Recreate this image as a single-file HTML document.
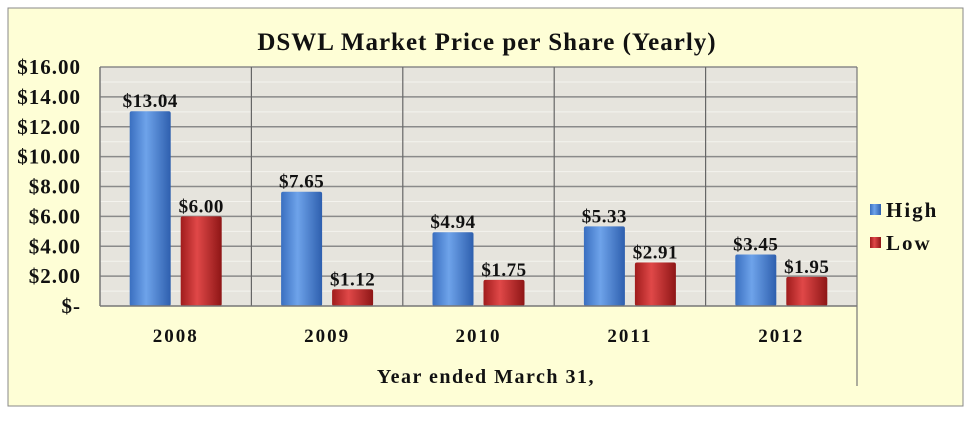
<!DOCTYPE html>
<html><head><meta charset="utf-8"><style>
body{margin:0;background:#fff;}
svg text{font-family:"Liberation Serif",serif;font-weight:bold;fill:#111;}
</style></head><body>
<svg width="975" height="418">
<defs>
<linearGradient id="gb" x1="0" x2="1"><stop offset="0" stop-color="#3a6fc0"/><stop offset="0.4" stop-color="#6ea3ea"/><stop offset="1" stop-color="#2e5fae"/></linearGradient>
<linearGradient id="gr" x1="0" x2="1"><stop offset="0" stop-color="#a01c1c"/><stop offset="0.4" stop-color="#e04848"/><stop offset="1" stop-color="#8e1616"/></linearGradient>
</defs>
<rect x="8" y="8" width="955" height="398" fill="#fefed6" stroke="#888"/>
<text x="487" y="50" font-size="25" letter-spacing="1" text-anchor="middle">DSWL Market Price per Share (Yearly)</text>
<rect x="100" y="67" width="757" height="239" fill="#e6e4dd"/>
<g id="grid"></g><g id="bars"></g><g id="axes"></g>
<text x="486" y="383" font-size="20" letter-spacing="1.5" text-anchor="middle">Year ended March 31,</text>
<rect x="870" y="204" width="11" height="11" fill="url(#gb)"/>
<text x="886" y="217" font-size="21" letter-spacing="2">High</text>
<rect x="870" y="237" width="11" height="11" fill="url(#gr)"/>
<text x="886" y="250" font-size="21" letter-spacing="2">Low</text>
</svg>
<script>
const categories=["2008","2009","2010","2011","2012"];
const highValues=[13.04,7.65,4.94,5.33,3.45];
const lowValues=[6.00,1.12,1.75,2.91,1.95];
const highLabels=["$13.04","$7.65","$4.94","$5.33","$3.45"];
const lowLabels=["$6.00","$1.12","$1.75","$2.91","$1.95"];
const yTicks=[0,2,4,6,8,10,12,14,16];
const yTickLabels=["$-","$2.00","$4.00","$6.00","$8.00","$10.00","$12.00","$14.00","$16.00"];
const NS="http://www.w3.org/2000/svg";
const L=100,R=857,T=67,B=306,ymax=16;
const cw=(R-L)/categories.length;
function y(v){return B-v/ymax*(B-T);}
function mk(tag,a,parent){const e=document.createElementNS(NS,tag);for(const k in a)e.setAttribute(k,a[k]);document.getElementById(parent).appendChild(e);return e;}
for(let v=1;v<=ymax;v++){
  const l=mk('line',{x1:L,x2:R,y1:y(v),y2:y(v),stroke:v%2?'#f4f3ee':'#8a8a8a','stroke-width':v%2?1:1.5},'grid');
  
  
}
for(let i=1;i<categories.length;i++){
  const l=mk('line',{x1:L+i*cw,x2:L+i*cw,y1:T,y2:B,stroke:'#666','stroke-width':1.2},'grid');
  
  
}
categories.forEach((c,i)=>{
  const x0=L+i*cw;
  const bw=41;
  [[highValues[i],highLabels[i],'url(#gb)',x0+cw/2-bw-5,'bar-high-'+c],[lowValues[i],lowLabels[i],'url(#gr)',x0+cw/2+5,'bar-low-'+c]].forEach(([v,lab,f,bx,nm])=>{
    const r=mk('rect',{x:bx,y:y(v),width:bw,height:B-y(v),fill:f,rx:2},'bars');
    
    
    const t=mk('text',{x:bx+bw/2,y:y(v)-4,'font-size':19,'letter-spacing':0.5,'text-anchor':'middle'},'bars');
    t.textContent=lab;
    
    
  });
  const t=mk('text',{x:x0+cw/2,y:342,'font-size':19,'letter-spacing':2,'text-anchor':'middle'},'axes');
  t.textContent=c;
  
  
});
yTicks.forEach((v,i)=>{
  const t=mk('text',{x:81,y:y(v)+7,'font-size':21,'letter-spacing':1,'text-anchor':'end'},'axes');
  t.textContent=yTickLabels[i];
  
  
});
let a=mk('line',{x1:L,x2:L,y1:T,y2:B,stroke:'#777','stroke-width':1.5},'axes');


a=mk('line',{x1:L,x2:R,y1:B,y2:B,stroke:'#777','stroke-width':1.5},'axes');


a=mk('line',{x1:R,x2:R,y1:T,y2:386,stroke:'#777','stroke-width':1.2},'axes');


</script>
</body></html>
